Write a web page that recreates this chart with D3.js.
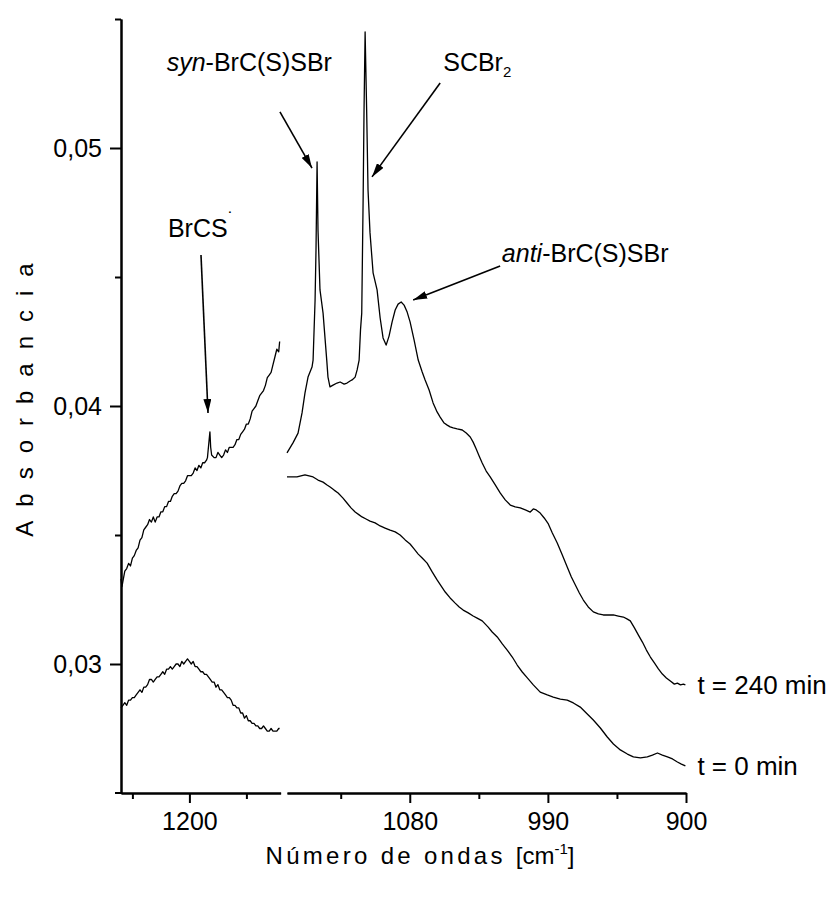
<!DOCTYPE html>
<html>
<head>
<meta charset="utf-8">
<script src="https://cdn.jsdelivr.net/npm/d3@7"></script>
<style>
  body { margin: 0; background: #fff; }
  text { font-family: "Liberation Sans", Arial, sans-serif; fill: #000; }
</style>
</head>
<body>
<div id="chart"></div>
<script>
// t = 240 min, left part of the broken axis  [wavenumber, absorbance]
var upperLeft = [[1236,0.0333],[1235.5,0.0330],[1235,0.0332],[1234,0.0336],[1233,0.0337],[1232,0.0339],[1231,0.0338],[1230,0.0341],[1229,0.0342],[1228,0.0344],[1227,0.0345],[1226,0.0348],[1225,0.0349],[1224,0.0352],[1223,0.0353],[1222,0.0354],[1221,0.0356],[1220,0.0355],[1219,0.0357],[1218,0.0355],[1217,0.0357],[1216,0.0357],[1215,0.0359],[1214,0.0359],[1213,0.0361],[1212,0.0361],[1211,0.0363],[1210,0.0363],[1209,0.0365],[1208,0.0366],[1207,0.0366],[1206,0.0367],[1205,0.0369],[1204,0.0370],[1203,0.0370],[1202,0.0371],[1201,0.0373],[1200,0.0373],[1199,0.0373],[1198,0.0374],[1197,0.0376],[1196,0.0375],[1195,0.0377],[1194,0.0376],[1193,0.0378],[1192,0.0378],[1191,0.0379],[1190.5,0.0380],[1189.6,0.0387],[1189.2,0.0390],[1188.8,0.0384],[1188.3,0.0381],[1187,0.0380],[1186,0.0380],[1185,0.0382],[1184,0.0381],[1183,0.0380],[1182,0.0381],[1181,0.0383],[1180,0.0382],[1179,0.0384],[1178,0.0384],[1177,0.0384],[1176,0.0385],[1175,0.0387],[1174,0.0387],[1173,0.0389],[1172,0.0390],[1171,0.0391],[1170,0.0393],[1169,0.0393],[1168,0.0395],[1167,0.0398],[1166,0.0399],[1165,0.0400],[1164,0.0402],[1163,0.0404],[1162,0.0405],[1161,0.0406],[1160,0.0408],[1159,0.0411],[1158,0.0412],[1157,0.0413],[1156,0.0416],[1155,0.0419],[1154,0.0422],[1153,0.0421],[1152.5,0.0425]];

// t = 0 min, left part
var lowerLeft = [[1236,0.0283],[1235,0.0284],[1234,0.0285],[1233,0.0284],[1232,0.0286],[1231,0.0286],[1230,0.0287],[1229,0.0287],[1228,0.0288],[1227,0.0289],[1226,0.0290],[1225,0.0289],[1224,0.0291],[1223,0.0291],[1222,0.0292],[1221,0.0294],[1220,0.0294],[1219,0.0293],[1218,0.0294],[1217,0.0295],[1216,0.0295],[1215,0.0296],[1214,0.0297],[1213,0.0296],[1212,0.0298],[1211,0.0298],[1210,0.0299],[1209,0.0298],[1208,0.0299],[1207,0.0300],[1206,0.0300],[1205,0.0299],[1204,0.0301],[1203,0.0300],[1202,0.0301],[1201,0.0302],[1200,0.0301],[1199,0.0300],[1198,0.0301],[1197,0.0299],[1196,0.0299],[1195,0.0298],[1194,0.0297],[1193,0.0297],[1192,0.0296],[1191,0.0296],[1190,0.0295],[1189,0.0294],[1188,0.0293],[1187,0.0293],[1186,0.0291],[1185,0.0292],[1184,0.0290],[1183,0.0290],[1182,0.0289],[1181,0.0288],[1180,0.0287],[1179,0.0287],[1178,0.0286],[1177,0.0284],[1176,0.0284],[1175,0.0283],[1174,0.0283],[1173,0.0281],[1172,0.0281],[1171,0.0279],[1170,0.0280],[1169,0.0278],[1168,0.0278],[1167,0.0277],[1166,0.0277],[1165,0.0276],[1164,0.0276],[1163,0.0275],[1162,0.0275],[1161,0.0276],[1160,0.0275],[1159,0.0274],[1158,0.0274],[1157,0.0275],[1156,0.0274],[1155,0.0274],[1154,0.0274],[1153,0.0275],[1152.5,0.0275]];

// t = 240 min, right part
var upperRight = [[1160,0.03818],[1156.1,0.03857],[1152.8,0.03895],[1150.2,0.03973],[1148.3,0.04050],[1146.3,0.04112],[1143.7,0.04151],[1143.0,0.04178],[1141.7,0.04411],[1141.1,0.04605],[1140.4,0.04946],[1139.8,0.04682],[1138.5,0.04450],[1136.5,0.04360],[1134.1,0.04178],[1133.3,0.04112],[1132.0,0.04074],[1130.0,0.04081],[1127.4,0.04089],[1125.4,0.04093],[1122.8,0.04085],[1120.9,0.04089],[1118.9,0.04097],[1117.6,0.04101],[1115.6,0.04112],[1114.3,0.04140],[1113.0,0.04178],[1112.1,0.04295],[1111.3,0.04360],[1110.4,0.04798],[1109.8,0.05147],[1109.1,0.05450],[1108.1,0.05147],[1107.2,0.04837],[1105.9,0.04671],[1103.9,0.04516],[1101.3,0.04450],[1099.3,0.04341],[1097.4,0.04264],[1095.4,0.04236],[1093.5,0.04271],[1091.5,0.04326],[1089.5,0.04372],[1087.6,0.04395],[1085.6,0.04403],[1083.7,0.04391],[1081.7,0.04364],[1079.8,0.04326],[1077.2,0.04256],[1074.5,0.04178],[1071.9,0.04132],[1070.0,0.04101],[1067.4,0.04062],[1064.8,0.04012],[1062.2,0.03977],[1060.2,0.03957],[1057.6,0.03934],[1055.6,0.03926],[1053.7,0.03919],[1051.7,0.03915],[1049.1,0.03911],[1045.8,0.03907],[1043.2,0.03895],[1040.6,0.03880],[1038.7,0.03860],[1036.7,0.03833],[1034.8,0.03806],[1032.8,0.03779],[1030.2,0.03748],[1027.6,0.03725],[1024.3,0.03694],[1021.1,0.03663],[1017.8,0.03636],[1014.5,0.03616],[1011.3,0.03609],[1008.0,0.03605],[1004.7,0.03597],[1001.5,0.03589],[999.5,0.03601],[997.6,0.03597],[995.0,0.03585],[992.4,0.03566],[989.7,0.03543],[987.1,0.03508],[983.9,0.03469],[980.6,0.03422],[977.4,0.03376],[974.7,0.03337],[972.1,0.03306],[969.5,0.03275],[966.9,0.03248],[963.7,0.03221],[960.4,0.03202],[957.1,0.03194],[953.9,0.03190],[950.6,0.03190],[947.3,0.03190],[944.1,0.03186],[940.8,0.03182],[938.2,0.03174],[936.3,0.03167],[933.6,0.03140],[931.0,0.03112],[928.4,0.03085],[925.8,0.03054],[923.2,0.03027],[920.6,0.03004],[918.0,0.02981],[915.4,0.02961],[912.8,0.02946],[910.2,0.02934],[907.6,0.02922],[905.6,0.02926],[903.6,0.02919],[901.7,0.02922],[900.4,0.02919]];

// t = 0 min, right part
var lowerRight = [[1160,0.03725],[1156.7,0.03725],[1153.5,0.03725],[1150.9,0.03729],[1148.3,0.03733],[1145.6,0.03729],[1143.0,0.03725],[1139.8,0.03713],[1136.5,0.03705],[1133.9,0.03694],[1131.9,0.03686],[1129.3,0.03674],[1126.7,0.03663],[1123.5,0.03643],[1120.9,0.03624],[1118.3,0.03605],[1115.6,0.03589],[1113.0,0.03578],[1111.1,0.03570],[1108.5,0.03562],[1105.9,0.03554],[1102.6,0.03547],[1099.3,0.03535],[1096.1,0.03527],[1092.8,0.03519],[1089.5,0.03512],[1086.3,0.03500],[1083.0,0.03481],[1079.8,0.03465],[1077.2,0.03446],[1074.5,0.03426],[1071.9,0.03411],[1068.7,0.03391],[1065.4,0.03357],[1062.2,0.03326],[1059.5,0.03302],[1056.9,0.03279],[1053.7,0.03256],[1050.4,0.03236],[1047.8,0.03221],[1045.2,0.03209],[1041.9,0.03198],[1038.7,0.03186],[1036.1,0.03178],[1032.8,0.03167],[1028.9,0.03143],[1026.3,0.03124],[1023.0,0.03105],[1019.7,0.03078],[1016.5,0.03054],[1013.2,0.03027],[1010.0,0.02996],[1006.7,0.02969],[1003.4,0.02946],[999.5,0.02919],[995.0,0.02891],[990.4,0.02880],[986.5,0.02872],[981.9,0.02864],[977.4,0.02860],[973.4,0.02849],[968.9,0.02833],[965.0,0.02810],[960.4,0.02783],[955.8,0.02752],[951.3,0.02717],[947.3,0.02690],[942.8,0.02667],[938.2,0.02651],[934.3,0.02640],[929.7,0.02636],[925.2,0.02640],[921.9,0.02647],[918.6,0.02655],[915.4,0.02647],[912.1,0.02640],[908.8,0.02632],[905.6,0.02620],[903.0,0.02612],[900.4,0.02605]];

// ticks
var yMajor = [0.03, 0.04, 0.05];
var yMinor = [0.035, 0.045, 0.055];
var xLeftMajor = [1200];
var xLeftMinor = [1230, 1170];
var xRightMajor = [1080, 990, 900];
var xRightMinor = [1125, 1035, 945];

// labels on the peaks: text at (tx,ty), arrow from (ax,ay) to (bx,by); side = which x scale
var notes = [
  {side: "L", pre: "", main: "BrCS", sup: "\u02D9", tx: 1211.3, ty: 0.04655, anchor: "start", ax: 1193.9, ay: 0.04585, bx: 1190.2, by: 0.03973},
  {side: "R", pre: "syn", main: "-BrC(S)SBr", tx: 1130.7, ty: 0.05298, anchor: "end", ax: 1164.6, ay: 0.05140, bx: 1143.7, by: 0.04922},
  {side: "R", pre: "", main: "SCBr", sub: "2", tx: 1058.2, ty: 0.05298, anchor: "start", ax: 1060.2, ay: 0.05252, bx: 1104.6, by: 0.04888},
  {side: "R", pre: "anti", main: "-BrC(S)SBr", tx: 1020.0, ty: 0.04558, anchor: "start", ax: 1021.1, ay: 0.04543, bx: 1077.8, by: 0.04411}
];

var seriesNames = [{name: "t = 240 min", x: 903, y: 0.02919}, {name: "t = 0 min", x: 903, y: 0.02605}];

var width = 835, height = 898;

var svg = d3.select("#chart").append("svg")
    .attr("width", width).attr("height", height);
svg.append("rect").attr("width", width).attr("height", height).attr("fill", "#fff");

var y = d3.scaleLinear().domain([0.025, 0.055]).range([793, 19]);
var xL = d3.scaleLinear().domain([1236, 1152]).range([121, 280.6]);
var xR = d3.scaleLinear().domain([1160, 900]).range([287, 686]);

svg.append("defs").append("marker")
    .attr("id", "head")
    .attr("viewBox", "0 0 14 8")
    .attr("refX", 14).attr("refY", 4)
    .attr("markerWidth", 14).attr("markerHeight", 8)
    .attr("markerUnits", "userSpaceOnUse")
    .attr("orient", "auto")
  .append("path").attr("d", "M0,0 L14,4 L0,8 Z").attr("fill", "#000");

// ---- curves ----
function drawCurve(pts, xs) {
  var line = d3.line().x(function(d) { return xs(d[0]); }).y(function(d) { return y(d[1]); });
  svg.append("path").datum(pts)
     .attr("d", line)
     .attr("fill", "none").attr("stroke", "#000")
     .attr("stroke-width", 1.3).attr("stroke-linejoin", "round");
}
drawCurve(upperLeft, xL);
drawCurve(lowerLeft, xL);
drawCurve(upperRight, xR);
drawCurve(lowerRight, xR);

// ---- axes ----
var fmtY = function(d) { return d.toFixed(2).replace(".", ","); };

var gy = svg.append("g").attr("transform", "translate(121,0)")
    .call(d3.axisLeft(y).tickValues(yMajor).tickSize(11).tickSizeOuter(0).tickFormat(fmtY));
svg.append("g").attr("transform", "translate(121,0)")
    .call(d3.axisLeft(y).tickValues(yMinor).tickSize(6).tickSizeOuter(0).tickFormat(""));

var gxl = svg.append("g").attr("transform", "translate(0,793)")
    .call(d3.axisBottom(xL).tickValues(xLeftMajor).tickSize(10).tickSizeOuter(0).tickFormat(d3.format("d")));
svg.append("g").attr("transform", "translate(0,793)")
    .call(d3.axisBottom(xL).tickValues(xLeftMinor).tickSize(6).tickSizeOuter(0).tickFormat(""));
var gxr = svg.append("g").attr("transform", "translate(0,793)")
    .call(d3.axisBottom(xR).tickValues(xRightMajor).tickSize(10).tickSizeOuter(0).tickFormat(d3.format("d")));
svg.append("g").attr("transform", "translate(0,793)")
    .call(d3.axisBottom(xR).tickValues(xRightMinor).tickSize(6).tickSizeOuter(0).tickFormat(""));

// little stub of the x axis left of the y axis
svg.append("line").attr("x1", 115).attr("x2", 122).attr("y1", 793).attr("y2", 793)
   .attr("stroke", "#000").attr("stroke-width", 2);

svg.selectAll(".domain").attr("stroke-width", 2);
svg.selectAll(".tick line").attr("stroke-width", 2);
svg.selectAll(".tick text").attr("font-size", "25px")
   .attr("font-family", "Liberation Sans, Arial, sans-serif");
gy.selectAll(".tick text").attr("x", -19);
gxl.selectAll(".tick text").attr("y", 19);
gxr.selectAll(".tick text").attr("y", 19);

// ---- axis titles ----
var xt = svg.append("text").attr("x", 420).attr("y", 864)
    .attr("text-anchor", "middle").attr("font-size", "24px");
xt.append("tspan").attr("letter-spacing", "3.3px").text("Número de ondas ");
xt.append("tspan").text("[cm");
xt.append("tspan").attr("font-size", "15px").attr("dy", -10).text("-1");
xt.append("tspan").attr("dy", 10).text("]");

svg.append("text")
    .attr("transform", "translate(33,393) rotate(-90)")
    .attr("text-anchor", "middle").attr("font-size", "24px")
    .attr("letter-spacing", "14px")
    .text("Absorbancia");

// ---- peak labels ----
notes.forEach(function(n) {
  var xs = n.side == "L" ? xL : xR;
  svg.append("line")
     .attr("x1", xs(n.ax)).attr("y1", y(n.ay))
     .attr("x2", xs(n.bx)).attr("y2", y(n.by))
     .attr("stroke", "#000").attr("stroke-width", 1.6)
     .attr("marker-end", "url(#head)");
  var t = svg.append("text").attr("x", xs(n.tx)).attr("y", y(n.ty))
     .attr("text-anchor", n.anchor).attr("font-size", "25px");
  if (n.pre) t.append("tspan").attr("font-style", "italic").text(n.pre);
  t.append("tspan").text(n.main);
  if (n.sub) t.append("tspan").attr("font-size", "15px").attr("dy", 6).text(n.sub);
  if (n.sup) t.append("tspan").attr("font-size", "18px").attr("dy", -12).text(n.sup);
});

// series names at the right end of each curve
svg.selectAll(".sname").data(seriesNames).enter().append("text")
   .attr("class", "sname")
   .attr("x", function(d) { return xR(d.x) + 16; })
   .attr("y", function(d) { return y(d.y) + 9; })
   .attr("font-size", "26px")
   .text(function(d) { return d.name; });
</script>
</body>
</html>
